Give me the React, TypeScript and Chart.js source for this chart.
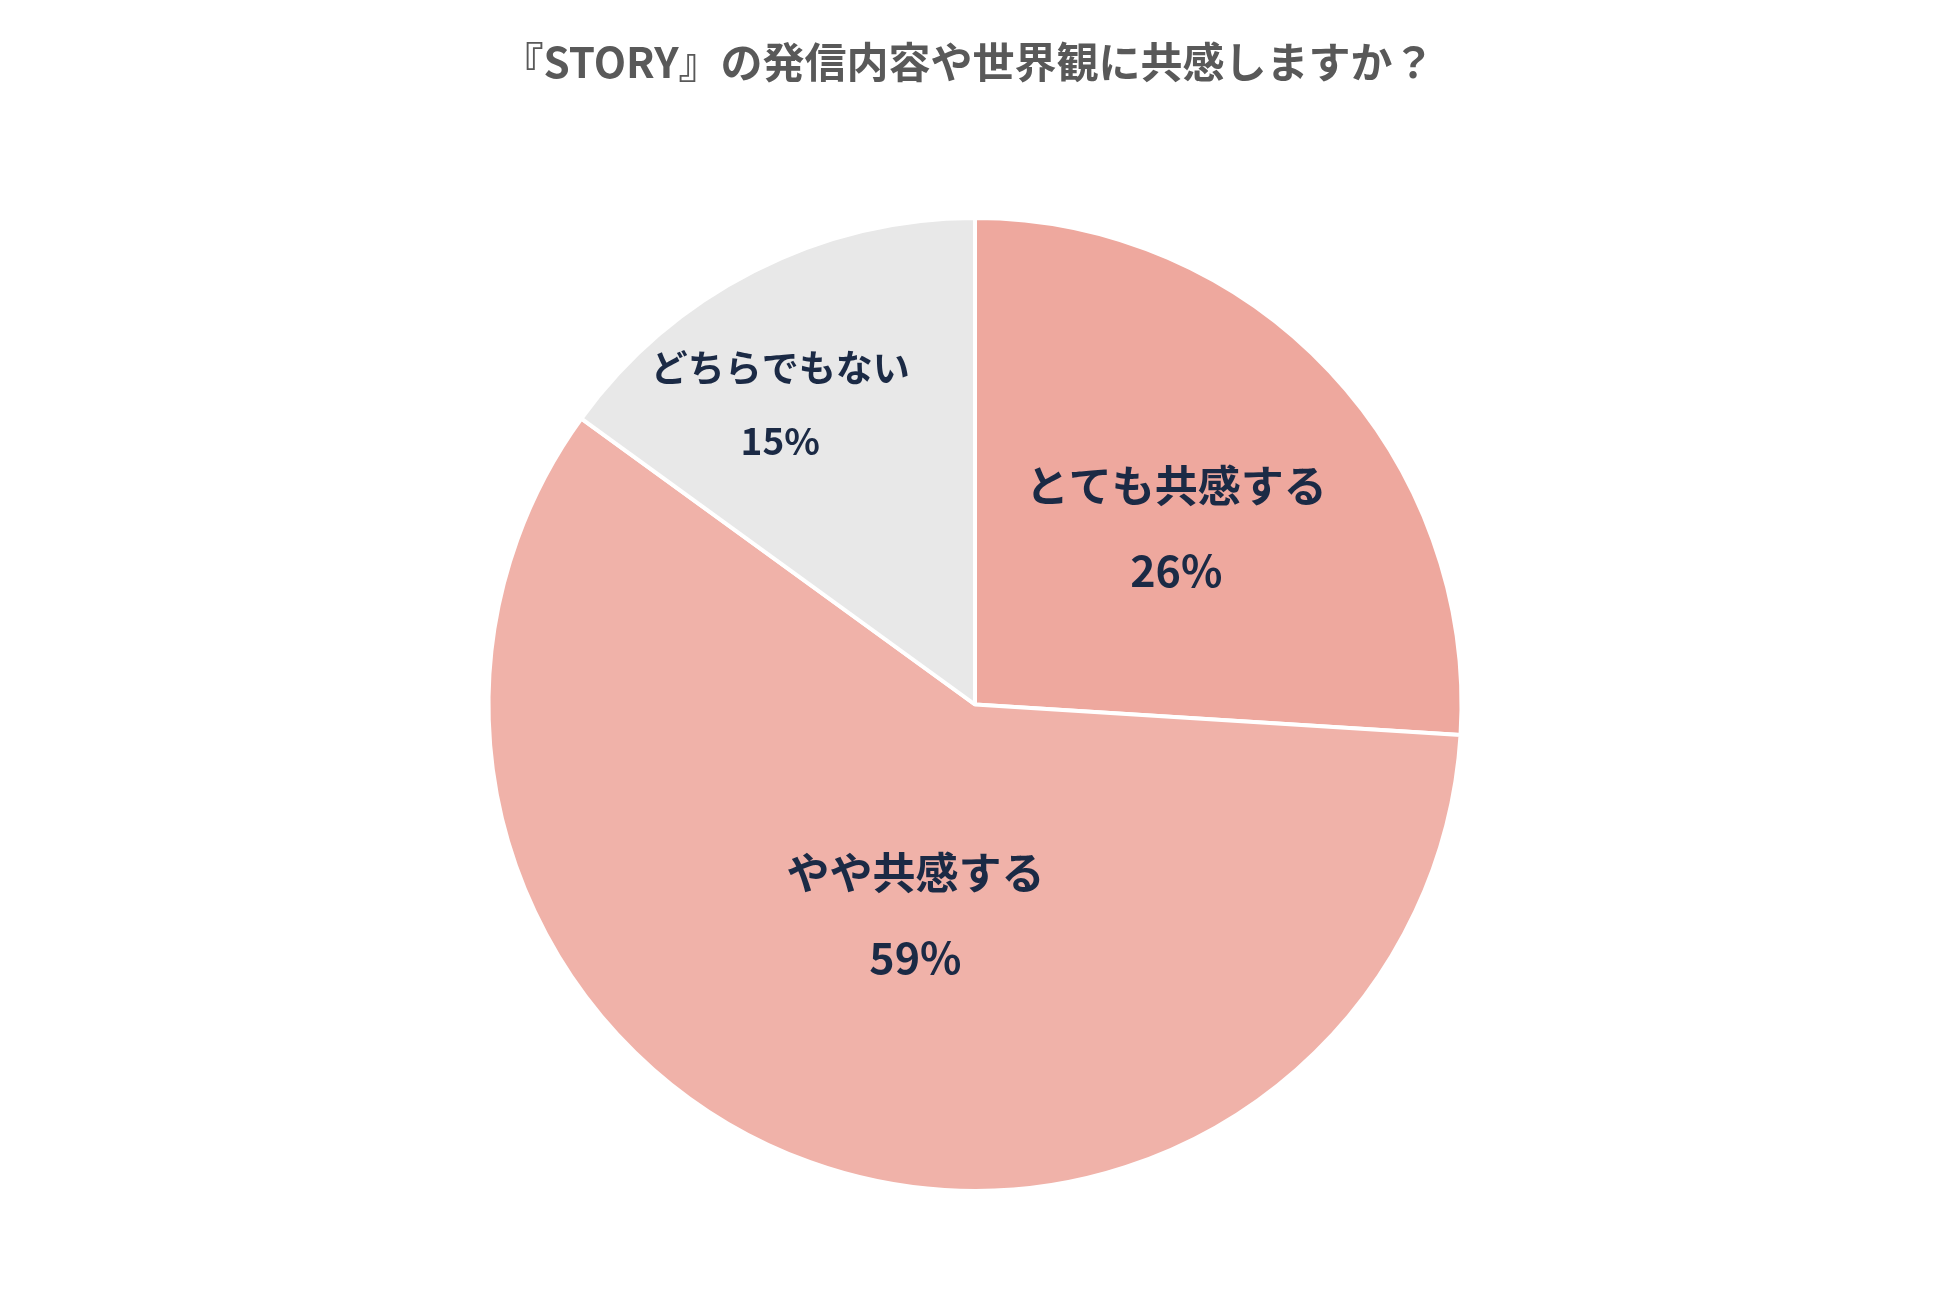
import React, { useEffect, useRef } from "react";
import { Chart, registerables } from "chart.js";

Chart.register(...registerables);

const titleText = "『STORY』の発信内容や世界観に共感しますか？";
const categories = ["とても共感する", "やや共感する", "どちらでもない"];
const values = [26, 59, 15];
const colors = ["#EEA89E", "#F0B2A9", "#E8E8E8"];
// label placement: fraction of radius along mid-angle, angle offset (deg), font size
const labelRadius = [0.55, 0.45, 0.735];
const labelAngleOffset = [2, -4, -6];
const labelFontSize = [43, 43, 37];
const labelGap = [85, 85, 73];

const FONT = '"Noto Sans CJK JP", "Noto Sans", sans-serif';

const labelPlugin = {
  id: "sliceLabels",
  afterDatasetsDraw(chart: any) {
    const ctx = chart.ctx;
    const meta = chart.getDatasetMeta(0);
    meta.data.forEach((arc: any, i: number) => {
      const { x, y, startAngle, endAngle, outerRadius } = arc.getProps(
        ["x", "y", "startAngle", "endAngle", "outerRadius"],
        true
      );
      const mid = (startAngle + endAngle) / 2 + (labelAngleOffset[i] * Math.PI) / 180;
      const r = outerRadius * labelRadius[i];
      const cx = x + Math.cos(mid) * r;
      const cy = y + Math.sin(mid) * r;
      ctx.save();
      ctx.fillStyle = "#1B2A45";
      ctx.textAlign = "center";
      ctx.textBaseline = "middle";
      ctx.font = `bold ${labelFontSize[i]}px ${FONT}`;
      ctx.fillText(categories[i], cx, cy - labelGap[i] / 2);
      ctx.fillText(`${values[i]}%`, cx, cy + labelGap[i] / 2);
      ctx.restore();
    });
  },
};

const titlePlugin = {
  id: "topTitle",
  afterDraw(chart: any) {
    const ctx = chart.ctx;
    ctx.save();
    ctx.fillStyle = "#595959";
    ctx.textAlign = "center";
    ctx.textBaseline = "middle";
    ctx.font = `bold 42px ${FONT}`;
    ctx.fillText(titleText, 968, 62);
    ctx.restore();
  },
};

export default function App() {
  const ref = useRef<HTMLCanvasElement>(null);
  useEffect(() => {
    if (!ref.current) return;
    const chart = new Chart(ref.current, {
      type: "pie",
      data: {
        labels: categories,
        datasets: [
          {
            data: values,
            backgroundColor: colors,
            borderColor: "#FFFFFF",
            borderWidth: 4,
          },
        ],
      },
      options: {
        animation: false,
        responsive: false,
        maintainAspectRatio: false,
        layout: { padding: { top: 216, bottom: 106, left: 0, right: 0 } },
        plugins: {
          legend: { display: false },
          title: { display: false },
          tooltip: { enabled: false },
        },
      },
      plugins: [labelPlugin, titlePlugin],
    });
    return () => chart.destroy();
  }, []);
  return (
    <div
      style={{
        position: "fixed",
        left: 0,
        top: 0,
        width: 1950,
        height: 1299,
        background: "#FFFFFF",
      }}
    >
      <canvas ref={ref} width={1950} height={1299} style={{ width: 1950, height: 1299 }} />
    </div>
  );
}
